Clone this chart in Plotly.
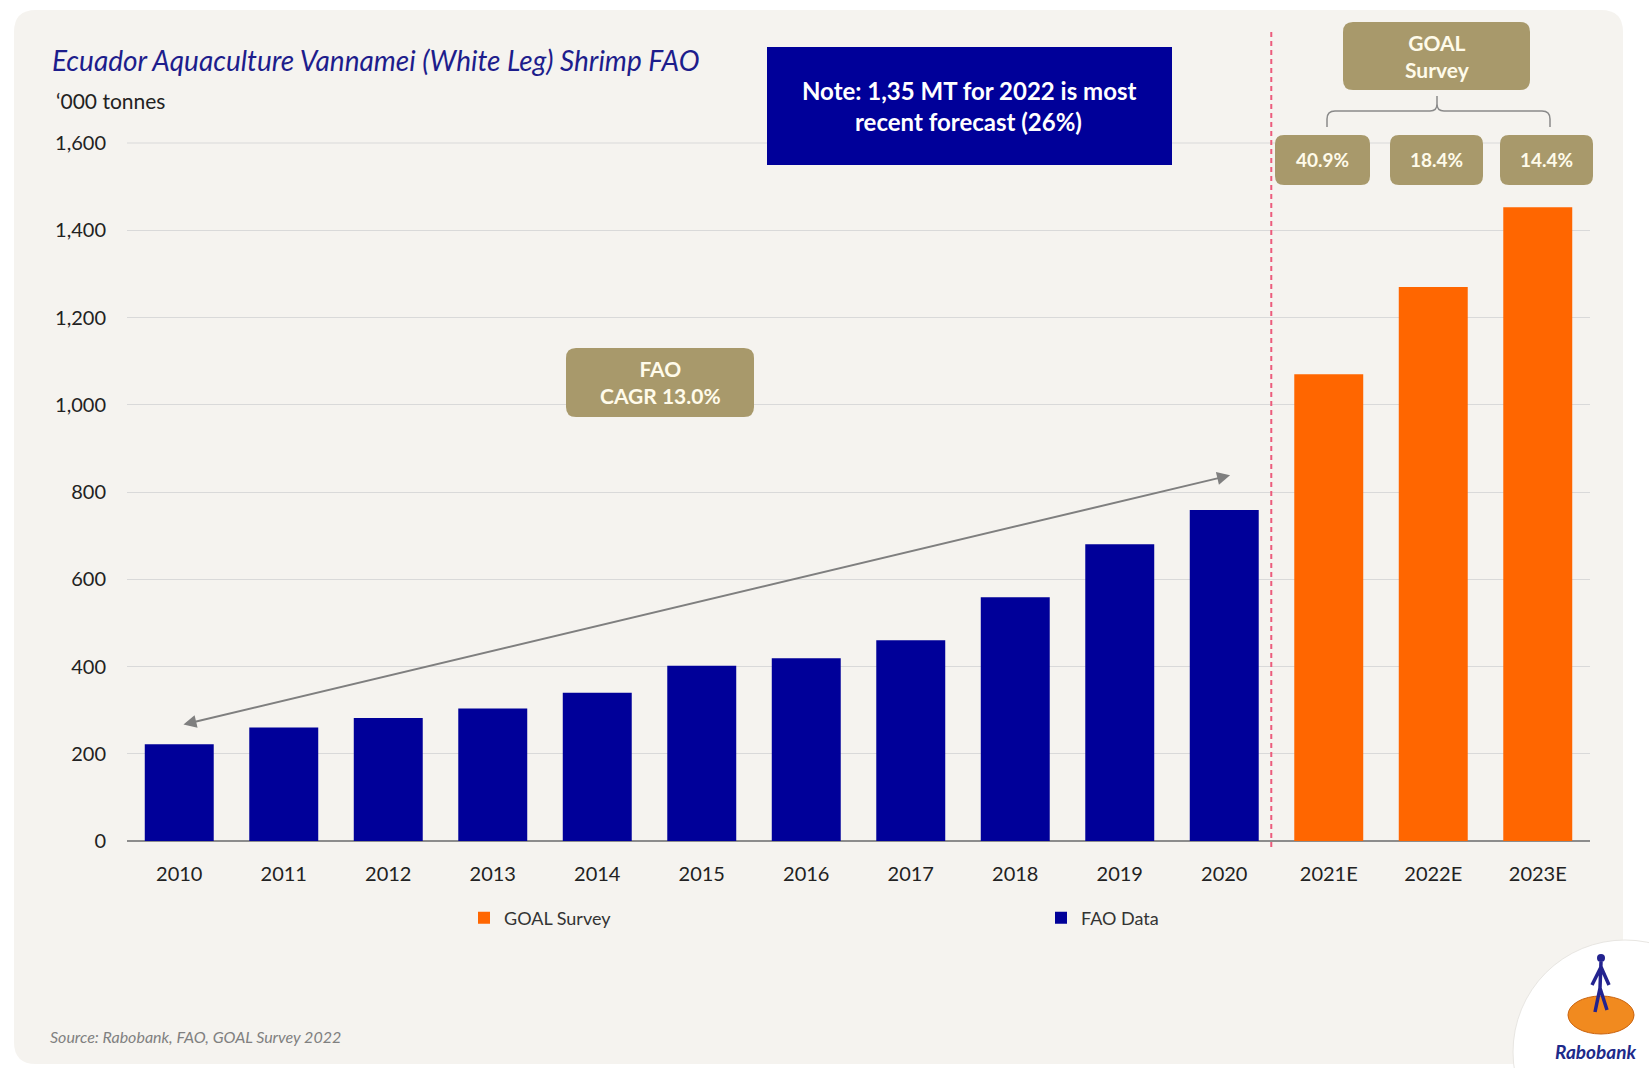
import plotly.graph_objects as go

# ---------------- data ----------------
fao_years = ["2010", "2011", "2012", "2013", "2014", "2015", "2016",
             "2017", "2018", "2019", "2020"]
fao_values = [222, 260, 282, 304, 340, 402, 419, 460, 559, 680, 759]
goal_years = ["2021E", "2022E", "2023E"]
goal_values = [1070, 1270, 1453]
goal_growth = ["40.9%", "18.4%", "14.4%"]
all_years = fao_years + goal_years
y_ticks = [0, 200, 400, 600, 800, 1000, 1200, 1400, 1600]
cagr_text = "FAO<br>CAGR 13.0%"
arrow_start = (0.04, 267)   # (category index, value) near 2010
arrow_end = (10.07, 839)    # near 2020

# ---------------- layout geometry (pixels) ----------------
W, H = 1649, 1068
L, R, T, B = 127, 59, 143, 227
PW, PH = W - L - R, H - T - B

def X(px):
    return (px - L) / PW

def Y(py):
    return (H - B - py) / PH

def rrect(x0, y0, x1, y1, r):
    return (f"M{X(x0 + r)},{Y(y0)} L{X(x1 - r)},{Y(y0)} Q{X(x1)},{Y(y0)} {X(x1)},{Y(y0 + r)} "
            f"L{X(x1)},{Y(y1 - r)} Q{X(x1)},{Y(y1)} {X(x1 - r)},{Y(y1)} "
            f"L{X(x0 + r)},{Y(y1)} Q{X(x0)},{Y(y1)} {X(x0)},{Y(y1 - r)} "
            f"L{X(x0)},{Y(y0 + r)} Q{X(x0)},{Y(y0)} {X(x0 + r)},{Y(y0)} Z")

NAVY = "#000099"
ORANGE = "#ff6600"
TAN = "#a8996b"
CREAM = "#fffbea"
FONT = "Lato"

fig = go.Figure()
fig.add_trace(go.Bar(x=fao_years, y=fao_values, name="FAO Data",
                     marker=dict(color=NAVY, line=dict(width=0))))
fig.add_trace(go.Bar(x=goal_years, y=goal_values, name="GOAL Survey",
                     marker=dict(color=ORANGE, line=dict(width=0))))

shapes = []
# background panel
shapes.append(dict(type="path", xref="paper", yref="paper", path=rrect(14, 10, 1623, 1064, 22),
                   fillcolor="#f5f3ef", line=dict(width=0), layer="below"))
# top gridline at 1600
shapes.append(dict(type="line", xref="paper", yref="paper", x0=0, x1=1, y0=1, y1=1,
                   line=dict(color="#d9d9d9", width=1), layer="below"))
# navy note box
shapes.append(dict(type="rect", xref="paper", yref="paper", x0=X(767), x1=X(1172), y0=Y(47), y1=Y(165),
                   fillcolor=NAVY, line=dict(width=0)))
# tan boxes
shapes.append(dict(type="path", xref="paper", yref="paper", path=rrect(566, 348, 754, 417, 10),
                   fillcolor=TAN, line=dict(width=0)))
shapes.append(dict(type="path", xref="paper", yref="paper", path=rrect(1343, 22, 1530, 90, 10),
                   fillcolor=TAN, line=dict(width=0)))
pct_boxes = [(1275, 1370), (1390, 1483), (1500, 1593)]
for (a, b) in pct_boxes:
    shapes.append(dict(type="path", xref="paper", yref="paper", path=rrect(a, 135, b, 185, 9),
                       fillcolor=TAN, line=dict(width=0)))
# bracket
br = (f"M{X(1327)},{Y(127)} L{X(1327)},{Y(119)} Q{X(1327)},{Y(111)} {X(1335)},{Y(111)} "
      f"L{X(1430)},{Y(111)} Q{X(1437)},{Y(111)} {X(1437)},{Y(104)} L{X(1437)},{Y(96)} "
      f"M{X(1437)},{Y(104)} Q{X(1437)},{Y(111)} {X(1444)},{Y(111)} "
      f"L{X(1542)},{Y(111)} Q{X(1550)},{Y(111)} {X(1550)},{Y(119)} L{X(1550)},{Y(127)}")
shapes.append(dict(type="path", xref="paper", yref="paper", path=br,
                   line=dict(color="#8a8a8a", width=1.5)))
# red dashed divider
xdiv = (10.45 + 0.5) / len(all_years)
shapes.append(dict(type="line", xref="paper", yref="paper", x0=xdiv, x1=xdiv, y0=Y(32), y1=Y(850),
                   line=dict(color="#ec5c7c", width=2, dash="5px,4px")))
# logo
shapes.append(dict(type="circle", xref="paper", yref="paper", x0=X(1513), x1=X(1737), y0=Y(940), y1=Y(1164),
                   fillcolor="#ffffff", line=dict(color="#e8e6e2", width=1)))
shapes.append(dict(type="circle", xref="paper", yref="paper", x0=X(1568), x1=X(1634), y0=Y(996), y1=Y(1034),
                   fillcolor="#f18a1f", line=dict(color="#c9620d", width=1)))
shapes.append(dict(type="circle", xref="paper", yref="paper", x0=X(1597), x1=X(1605), y0=Y(954), y1=Y(962),
                   fillcolor="#23238f", line=dict(width=0)))
fig_path = (f"M{X(1601)},{Y(962)} L{X(1600)},{Y(988)} L{X(1595)},{Y(1012)} "
            f"M{X(1600)},{Y(988)} L{X(1607)},{Y(1010)} "
            f"M{X(1601)},{Y(967)} L{X(1592)},{Y(985)} M{X(1601)},{Y(967)} L{X(1609)},{Y(985)}")
shapes.append(dict(type="path", xref="paper", yref="paper", path=fig_path,
                   line=dict(color="#23238f", width=3.5)))

ann = []
ann.append(dict(xref="paper", yref="paper", x=X(50), y=Y(60), xanchor="left", yanchor="middle",
                text="<i>Ecuador Aquaculture Vannamei (White Leg) Shrimp FAO</i>", showarrow=False,
                font=dict(family=FONT, size=28, color="#1d1d8c")))
ann.append(dict(xref="paper", yref="paper", x=X(54), y=Y(100), xanchor="left", yanchor="middle",
                text="‘000 tonnes", showarrow=False, font=dict(family=FONT, size=21, color="#222222")))
ann.append(dict(xref="paper", yref="paper", x=X(969), y=Y(90), xanchor="center", yanchor="middle",
                text="<b>Note: 1,35 MT for 2022 is most</b>", showarrow=False,
                font=dict(family=FONT, size=24, color="#ffffff")))
ann.append(dict(xref="paper", yref="paper", x=X(969), y=Y(122), xanchor="center", yanchor="middle",
                text="<b>recent forecast (26%)</b>", showarrow=False,
                font=dict(family=FONT, size=24, color="#ffffff")))
ann.append(dict(xref="paper", yref="paper", x=X(660), y=Y(382), xanchor="center", yanchor="middle",
                text="<b>" + cagr_text + "</b>", showarrow=False,
                font=dict(family=FONT, size=21, color=CREAM)))
ann.append(dict(xref="paper", yref="paper", x=X(1437), y=Y(56), xanchor="center", yanchor="middle",
                text="<b>GOAL<br>Survey</b>", showarrow=False,
                font=dict(family=FONT, size=21, color=CREAM)))
for (a, b), g in zip(pct_boxes, goal_growth):
    ann.append(dict(xref="paper", yref="paper", x=X((a + b) / 2), y=Y(160), xanchor="center", yanchor="middle",
                    text="<b>" + g + "</b>", showarrow=False, font=dict(family=FONT, size=19, color=CREAM)))
# CAGR arrow (double headed)
ann.append(dict(xref="x", yref="y", axref="x", ayref="y", x=arrow_start[0], y=arrow_start[1],
                ax=arrow_end[0], ay=arrow_end[1], text="", showarrow=True, arrowhead=2, startarrowhead=2,
                arrowside="end+start", arrowsize=1.3, startarrowsize=1.3, arrowwidth=2, arrowcolor="#7f7f7f",
                standoff=0, startstandoff=0))
ann.append(dict(xref="paper", yref="paper", x=X(48), y=Y(1036), xanchor="left", yanchor="middle",
                text="<i>Source: Rabobank, FAO, GOAL Survey 2022</i>", showarrow=False,
                font=dict(family=FONT, size=16, color="#808080")))
ann.append(dict(xref="paper", yref="paper", x=X(1553), y=Y(1051), xanchor="left", yanchor="middle",
                text="<b><i>Rabobank</i></b>", showarrow=False,
                font=dict(family=FONT, size=19, color="#1d2a8a")))

fig.update_layout(
    width=W, height=H,
    margin=dict(l=L, r=R, t=T, b=B, autoexpand=False),
    paper_bgcolor="#ffffff", plot_bgcolor="rgba(0,0,0,0)",
    barmode="overlay", bargap=0.34,
    font=dict(family=FONT, color="#222222"),
    shapes=shapes, annotations=ann,
    showlegend=True,
    legend=dict(orientation="h", x=X(464), xanchor="left", y=Y(918), yanchor="middle",
                traceorder="reversed", entrywidth=532, entrywidthmode="pixels",
                font=dict(family=FONT, size=18, color="#333333"), bgcolor="rgba(0,0,0,0)"),
    xaxis=dict(type="category", categoryorder="array", categoryarray=all_years,
               showgrid=False, showline=False, zeroline=False, ticks="",
               tickfont=dict(family=FONT, size=20, color="#222222"), ticklabelstandoff=19),
    yaxis=dict(range=[0, 1600], tickvals=y_ticks, tickformat=",", showgrid=True,
               gridcolor="#d9d9d9", gridwidth=1, zeroline=True, zerolinecolor="#8c8c8c",
               zerolinewidth=2, showline=False, ticks="",
               tickfont=dict(family=FONT, size=20, color="#222222"), ticklabelstandoff=20),
)

fig.write_html("out.html")
